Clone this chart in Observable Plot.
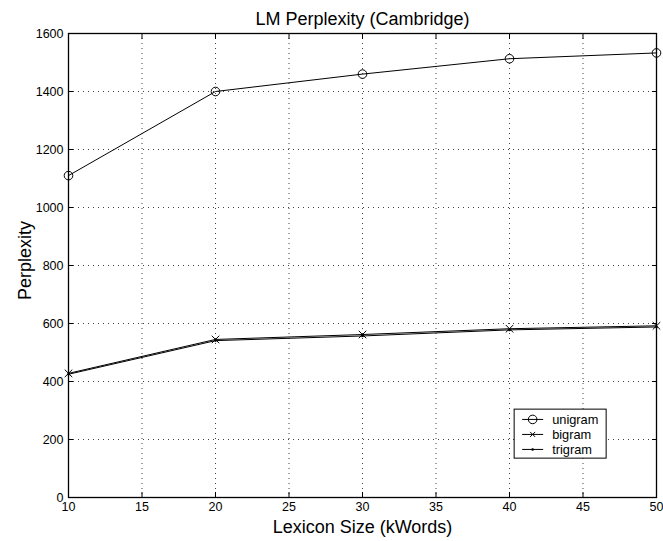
<!DOCTYPE html>
<html><head><meta charset="utf-8">
<script src="https://cdn.jsdelivr.net/npm/d3@7"></script>
<script src="https://cdn.jsdelivr.net/npm/@observablehq/plot@0.6"></script>
<style>
body{margin:0;background:#fff;}
svg{font-family:"Liberation Sans",Arial,sans-serif;}
</style>
</head><body><div id="chart"></div>
<script>
const lexicon = [10, 20, 30, 40, 50];
const unigram = [1110, 1400, 1460, 1513, 1533];
const bigram = [428, 545, 562, 582, 592];
const trigram = [425, 541, 557, 578, 588];
const xTicks = [10, 15, 20, 25, 30, 35, 40, 45, 50];
const yTicks = [0, 200, 400, 600, 800, 1000, 1200, 1400, 1600];
const seriesNames = ["unigram", "bigram", "trigram"];
const seriesSymbols = ["circle", "times", "dot"];
const title = "LM Perplexity (Cambridge)";
const xLabel = "Lexicon Size (kWords)";
const yLabel = "Perplexity";

const rows = [];
[unigram, bigram, trigram].forEach((vals, i) => {
  vals.forEach((v, j) => rows.push({series: seriesNames[i], x: lexicon[j], y: v}));
});
const byS = s => rows.filter(r => r.series === s);

const grid = {stroke: "#000", strokeOpacity: 0.75, strokeDasharray: "1,4", strokeWidth: 1};
const tickFont = {fontSize: 12.5};
const fmt = d => String(d);

const plot = Plot.plot({
  width: 663, height: 541,
  marginLeft: 68, marginRight: 7, marginTop: 33, marginBottom: 44,
  style: {fontFamily: "'Liberation Sans', Arial, sans-serif", fontSize: "12px", color: "#000", background: "#fff"},
  x: {domain: [10, 50]},
  y: {domain: [0, 1600]},
  marks: [
    Plot.gridX(xTicks, grid),
    Plot.gridY(yTicks, grid),
    Plot.axisX(xTicks, {anchor: "bottom", tickSize: -5, tickPadding: 9.5, label: null, tickFormat: fmt, ...tickFont}),
    Plot.axisX(xTicks, {anchor: "top", tickSize: -5, tickFormat: () => "", label: null}),
    Plot.axisY(yTicks, {anchor: "left", tickSize: -5, tickPadding: 10, label: null, tickFormat: fmt, ...tickFont}),
    Plot.axisY(yTicks, {anchor: "right", tickSize: -5, tickFormat: () => "", label: null}),
    Plot.frame({stroke: "#000", strokeWidth: 1.3}),
    Plot.line(byS("unigram"), {x: "x", y: "y", stroke: "#000", strokeWidth: 1}),
    Plot.line(byS("bigram"), {x: "x", y: "y", stroke: "#000", strokeWidth: 1}),
    Plot.line(byS("trigram"), {x: "x", y: "y", stroke: "#000", strokeWidth: 1}),
    Plot.dot(byS("unigram"), {x: "x", y: "y", symbol: "circle", r: 4.3, stroke: "#000", fill: "none", strokeWidth: 1}),
    Plot.dot(byS("bigram"), {x: "x", y: "y", symbol: "times", r: 3.5, stroke: "#000", strokeWidth: 1}),
    Plot.dot(byS("trigram"), {x: "x", y: "y", r: 1.3, fill: "#000", stroke: "none"}),
    Plot.text([title], {frameAnchor: "top", dy: -14, fontSize: 18, lineAnchor: "middle", textAnchor: "middle", text: d => d}),
    Plot.text([xLabel], {frameAnchor: "bottom", dy: 30, fontSize: 18, lineAnchor: "middle", textAnchor: "middle", text: d => d}),
    Plot.text([yLabel], {frameAnchor: "left", dx: -43, dy: -5, rotate: -90, fontSize: 18, lineAnchor: "middle", textAnchor: "middle", text: d => d})
  ]
});
document.getElementById("chart").appendChild(plot);

// Legend box (MATLAB style) placed inside the plot area
const svg = d3.select(plot);
const sx = plot.scale("x"), sy = plot.scale("y");
const lx = sx.apply(40.35), ly = sy.apply(303);
const g = svg.append("g").attr("transform", `translate(${lx},${ly})`);
g.append("rect").attr("x", 0).attr("y", 0).attr("width", 92).attr("height", 49)
  .attr("fill", "#fff").attr("stroke", "#000").attr("stroke-width", 1);
seriesNames.forEach((name, i) => {
  const yy = 10.3 + i * 15;
  g.append("line").attr("x1", 8).attr("x2", 29).attr("y1", yy).attr("y2", yy).attr("stroke", "#000");
  const cx = 18.5;
  if (seriesSymbols[i] === "circle") {
    g.append("circle").attr("cx", cx).attr("cy", yy).attr("r", 4.3).attr("fill", "none").attr("stroke", "#000");
  } else if (seriesSymbols[i] === "times") {
    g.append("path").attr("d", `M${cx-2.5},${yy-2.5}L${cx+2.5},${yy+2.5}M${cx-2.5},${yy+2.5}L${cx+2.5},${yy-2.5}`).attr("stroke", "#000");
  } else {
    g.append("circle").attr("cx", cx).attr("cy", yy).attr("r", 1.3).attr("fill", "#000");
  }
  g.append("text").attr("x", 38).attr("y", yy).attr("dy", "0.35em").attr("text-anchor", "start")
    .attr("font-size", 12.8).attr("fill", "#000").text(name);
});
</script>
</body></html>
